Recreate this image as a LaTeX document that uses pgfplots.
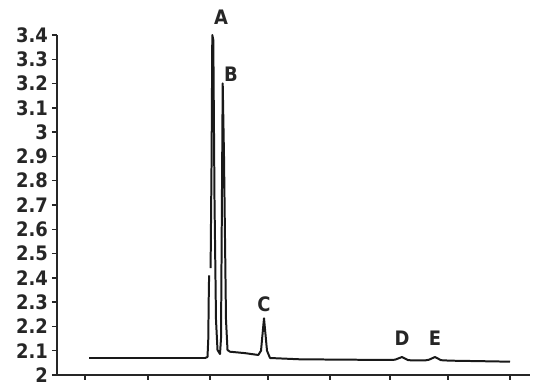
\documentclass[border=0pt]{standalone}
\usepackage{fontspec}
\setmainfont{DejaVu Sans Condensed}
\usepackage{pgfplots}
\pgfplotsset{compat=1.18}
\begin{document}
\begin{tikzpicture}
\begin{axis}[
  at={(0,0)}, anchor=south west,
  scale only axis,
  width=473bp, height=340bp,
  xmin=57, xmax=530,
  ymin=2, ymax=3.4,
  axis x line*=bottom, axis y line*=left,
  axis line style={-, line width=1.8pt, black!85},
  tick style={line width=1.5pt, black!85},
  tick align=outside,
  major tick length=5bp,
  xtick={85,148,210,268,330,390,448,510},
  xticklabels={},
  ytick={2,2.1,2.2,2.3,2.4,2.5,2.6,2.7,2.8,2.9,3,3.1,3.2,3.3,3.4},
  yticklabels={2,2.1,2.2,2.3,2.4,2.5,2.6,2.7,2.8,2.9,3,3.1,3.2,3.3,3.4},
  yticklabel style={font=\bfseries\fontsize{20}{20}\selectfont, text=black!85, inner sep=1bp, xshift=-3bp},
  /pgf/number format/assume math mode=true,
  clip=false,
  unbounded coords=jump,
]
\addplot[black!90, line width=2pt, line join=round] coordinates {
  (89,2.0700) (150,2.0700) (205,2.0700) (207.5,2.0741) (208.3,2.1500)
  (208.7,2.3088) (209.1,2.4100) (209.3,nan) (210.6,2.4400) (211.6,2.9000)
  (212.3,3.4000) (213.3,3.3800) (214.5,2.7206) (216,2.2265) (217.5,2.1029)
  (220,2.0865) (221,2.1500) (222.7,3.2011) (224,2.9000) (226,2.2265)
  (227.5,2.1029) (230,2.0959) (245,2.0900) (258.3,2.0824) (261,2.1000)
  (264,2.2335) (267,2.1000) (270,2.0700) (300,2.0646) (350,2.0630)
  (390,2.0618) (395,2.0630) (402,2.0740) (408,2.0615) (412,2.0600)
  (425,2.0600) (429,2.0630) (435,2.0740) (441,2.0610) (450,2.0590)
  (480,2.0570) (510,2.0548)
};
\node[font=\bfseries\fontsize{20}{20}\selectfont, text=black!85] at (axis cs:221,3.474) {A};
\node[font=\bfseries\fontsize{20}{20}\selectfont, text=black!85] at (axis cs:231,3.239) {B};
\node[font=\bfseries\fontsize{20}{20}\selectfont, text=black!85] at (axis cs:264,2.292) {C};
\node[font=\bfseries\fontsize{20}{20}\selectfont, text=black!85] at (axis cs:402,2.152) {D};
\node[font=\bfseries\fontsize{20}{20}\selectfont, text=black!85] at (axis cs:435,2.152) {E};
\end{axis}
\path (-57bp,-5bp) rectangle (477bp,375bp);
\end{tikzpicture}
\end{document}
